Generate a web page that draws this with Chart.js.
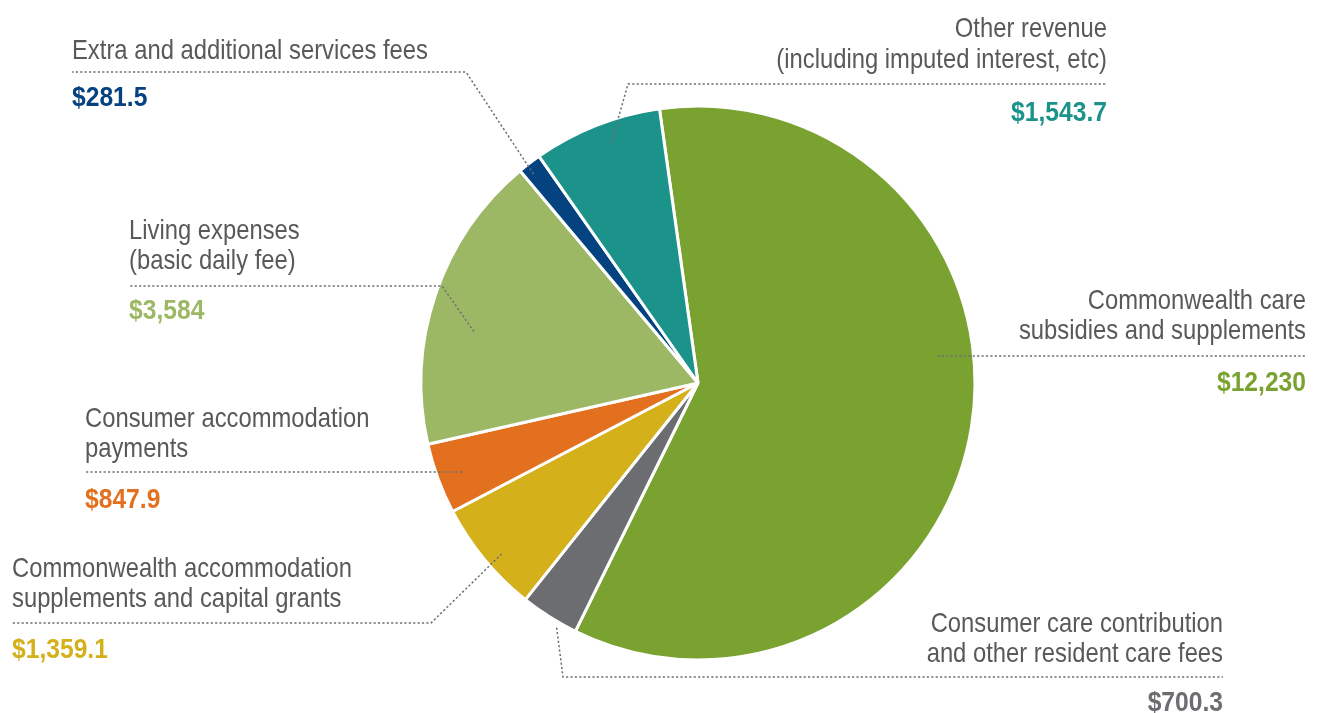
<!DOCTYPE html>
<html>
<head>
<meta charset="utf-8">
<title>Residential aged care revenue by source</title>
<script src="https://cdn.jsdelivr.net/npm/chart.js@4.4.1/dist/chart.umd.min.js"></script>
<style>
  html, body { margin: 0; padding: 0; background: #ffffff; }
  #wrap { position: relative; width: 1317px; height: 713px; }
</style>
</head>
<body>
<div id="wrap"><canvas id="pie"></canvas></div>
<script>
// Revenue sources ($ million), clockwise from the top of the pie
const categories = [
  ['Commonwealth care', 'subsidies and supplements'],
  ['Consumer care contribution', 'and other resident care fees'],
  ['Commonwealth accommodation', 'supplements and capital grants'],
  ['Consumer accommodation', 'payments'],
  ['Living expenses', '(basic daily fee)'],
  ['Extra and additional services fees'],
  ['Other revenue', '(including imputed interest, etc)']
];
const values = [12230, 700.3, 1359.1, 847.9, 3584, 281.5, 1543.7];
const colors = ['#7aa230', '#6c6d71', '#d4b01a', '#e3701e', '#9db865', '#044280', '#1b928a'];

// Callout placement for each slice: text block position, leader line route,
// and where the leader line enters the slice (angle offset from the slice
// middle in degrees, fraction of the radius).
const callouts = [
  { align: 'right', x: 1306, lines: [309, 339], rule: 356, value: 391, elbow: null, enter: [-15.5, 0.87] },
  { align: 'right', x: 1223, lines: [632, 662], rule: 677, value: 711, elbow: 563, enter: [-2.4, 1.02] },
  { align: 'left',  x: 12,   lines: [577, 607], rule: 623, value: 658, elbow: 431, enter: [-1.5, 0.94] },
  { align: 'left',  x: 85,   lines: [427, 457], rule: 472, value: 508, elbow: null, enter: [-0.5, 0.91] },
  { align: 'left',  x: 129,  lines: [239, 269], rule: 286, value: 319, elbow: 442, enter: [-5.7, 0.83] },
  { align: 'left',  x: 72,   lines: [59],       rule: 72,  value: 106, elbow: 466, enter: [-0.7, 0.96] },
  { align: 'right', x: 1107, lines: [37, 68],   rule: 84,  value: 121, elbow: 628, enter: [1.6, 0.92] }
];

const TEXT_GREY = '#58595b';
const RULE_GREY = '#6f7073';
const LABEL_FONT = '28px "Liberation Sans", Arial, sans-serif';
const VALUE_FONT = 'bold 28px "Liberation Sans", Arial, sans-serif';
const LABEL_SQUEEZE = 0.85;
const VALUE_SQUEEZE = 0.88;

function money(v) {
  const opts = Number.isInteger(v)
    ? { maximumFractionDigits: 0 }
    : { minimumFractionDigits: 1, maximumFractionDigits: 1 };
  return '$' + v.toLocaleString('en-US', opts);
}

function squeezedText(ctx, text, x, y, align, font, color, squeeze) {
  ctx.save();
  ctx.font = font;
  ctx.fillStyle = color;
  ctx.textAlign = 'left';
  ctx.textBaseline = 'alphabetic';
  const w = ctx.measureText(text).width * squeeze;
  const left = align === 'right' ? x - w : x;
  ctx.translate(left, y);
  ctx.scale(squeeze, 1);
  ctx.fillText(text, 0, 0);
  ctx.restore();
}

const calloutPlugin = {
  id: 'callouts',
  afterDatasetsDraw(chart) {
    const ctx = chart.ctx;
    const arcs = chart.getDatasetMeta(0).data;
    arcs.forEach((arc, i) => {
      const c = callouts[i];
      const mid = (arc.startAngle + arc.endAngle) / 2 + c.enter[0] * Math.PI / 180;
      const r = arc.outerRadius * c.enter[1];
      const ax = arc.x + Math.cos(mid) * r;
      const ay = arc.y + Math.sin(mid) * r;

      // dotted leader line
      ctx.save();
      ctx.strokeStyle = RULE_GREY;
      ctx.lineWidth = 1.5;
      ctx.setLineDash([2.2, 2.2]);
      ctx.beginPath();
      if (c.elbow === null) {
        ctx.moveTo(ax, c.rule);
      } else {
        ctx.moveTo(ax, ay);
        ctx.lineTo(c.elbow, c.rule);
      }
      ctx.lineTo(c.x, c.rule);
      ctx.stroke();
      ctx.restore();

      // category name and value
      categories[i].forEach((line, k) => {
        squeezedText(ctx, line, c.x, c.lines[k], c.align, LABEL_FONT, TEXT_GREY, LABEL_SQUEEZE);
      });
      squeezedText(ctx, money(values[i]), c.x, c.value, c.align, VALUE_FONT, colors[i], VALUE_SQUEEZE);
    });
  }
};

new Chart(document.getElementById('pie'), {
  type: 'pie',
  data: {
    labels: categories.map(l => l.join(' ')),
    datasets: [{
      data: values,
      backgroundColor: colors,
      borderColor: '#ffffff',
      borderWidth: 3
    }]
  },
  options: {
    responsive: true,
    maintainAspectRatio: false,
    animation: false,
    rotation: -8,
    layout: { padding: { left: 419.5, right: 340.5, top: 104.5, bottom: 51.5 } },
    plugins: {
      legend: { display: false },
      tooltip: { enabled: false }
    }
  },
  plugins: [calloutPlugin]
});
</script>
</body>
</html>
